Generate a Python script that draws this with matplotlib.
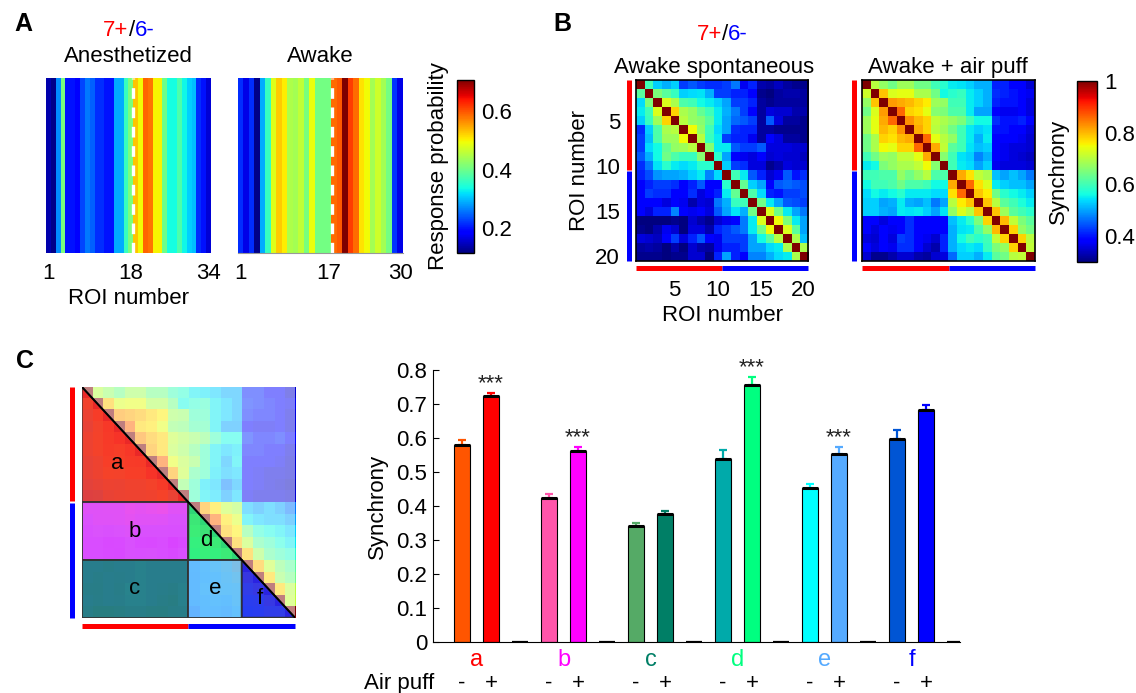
import numpy as np
import matplotlib
matplotlib.use('Agg')
import matplotlib.pyplot as plt
from matplotlib.patches import Polygon, Rectangle
from matplotlib.offsetbox import TextArea, HPacker, AnnotationBbox

plt.rcParams['font.family'] = ['Liberation Sans', 'DejaVu Sans']

# --- data ---
resp_anesthetized = [0.14, 0.12, 0.27, 0.41, 0.20, 0.20, 0.19, 0.23, 0.26, 0.245,
                     0.215, 0.215, 0.20, 0.20, 0.29, 0.29, 0.36, 0.41, 0.53, 0.495,
                     0.59, 0.58, 0.50, 0.50, 0.40, 0.337, 0.337, 0.376, 0.334, 0.31,
                     0.30, 0.215, 0.20, 0.16]
resp_awake = [0.215, 0.17, 0.215, 0.12, 0.29, 0.36, 0.48, 0.525, 0.505, 0.447,
              0.44, 0.46, 0.41, 0.49, 0.405, 0.405, 0.405, 0.585, 0.596, 0.709,
              0.614, 0.585, 0.51, 0.495, 0.44, 0.47, 0.44, 0.405, 0.22, 0.17]
ticks_anesthetized = [1, 18, 34]
ticks_awake = [1, 17, 30]
split_anesthetized = 18   # last 7+ ROI
split_awake = 17

sync_spont = [
    [1.00, 0.60, 0.53, 0.51, 0.53, 0.43, 0.45, 0.43, 0.42, 0.42, 0.43, 0.47, 0.37, 0.41, 0.33, 0.32, 0.34, 0.32, 0.31, 0.31],
    [0.62, 1.00, 0.65, 0.62, 0.59, 0.53, 0.54, 0.545, 0.51, 0.43, 0.43, 0.41, 0.41, 0.39, 0.31, 0.30, 0.32, 0.33, 0.33, 0.32],
    [0.54, 0.65, 1.00, 0.73, 0.69, 0.61, 0.60, 0.56, 0.55, 0.53, 0.50, 0.43, 0.43, 0.41, 0.32, 0.31, 0.32, 0.32, 0.32, 0.32],
    [0.55, 0.60, 0.73, 1.00, 0.78, 0.69, 0.67, 0.63, 0.60, 0.55, 0.51, 0.47, 0.43, 0.38, 0.32, 0.36, 0.35, 0.35, 0.33, 0.33],
    [0.53, 0.59, 0.68, 0.78, 1.00, 0.70, 0.67, 0.66, 0.62, 0.55, 0.50, 0.46, 0.45, 0.43, 0.32, 0.45, 0.36, 0.32, 0.32, 0.31],
    [0.42, 0.53, 0.61, 0.69, 0.70, 1.00, 0.75, 0.67, 0.60, 0.54, 0.50, 0.42, 0.41, 0.41, 0.32, 0.32, 0.31, 0.31, 0.31, 0.31],
    [0.43, 0.52, 0.61, 0.68, 0.68, 0.75, 1.00, 0.70, 0.59, 0.55, 0.43, 0.41, 0.41, 0.37, 0.32, 0.39, 0.36, 0.32, 0.32, 0.31],
    [0.43, 0.54, 0.56, 0.63, 0.67, 0.68, 0.70, 1.00, 0.66, 0.55, 0.55, 0.45, 0.43, 0.43, 0.45, 0.36, 0.36, 0.36, 0.35, 0.35],
    [0.45, 0.51, 0.56, 0.64, 0.61, 0.59, 0.59, 0.66, 1.00, 0.58, 0.50, 0.38, 0.37, 0.36, 0.39, 0.35, 0.36, 0.35, 0.35, 0.34],
    [0.42, 0.47, 0.545, 0.58, 0.55, 0.54, 0.55, 0.58, 0.58, 1.00, 0.53, 0.43, 0.42, 0.36, 0.36, 0.31, 0.33, 0.36, 0.35, 0.35],
    [0.41, 0.44, 0.49, 0.50, 0.50, 0.51, 0.53, 0.55, 0.48, 0.54, 1.00, 0.60, 0.55, 0.45, 0.41, 0.35, 0.37, 0.45, 0.40, 0.42],
    [0.39, 0.41, 0.43, 0.43, 0.42, 0.39, 0.41, 0.45, 0.38, 0.39, 0.58, 1.00, 0.63, 0.53, 0.50, 0.38, 0.45, 0.46, 0.45, 0.44],
    [0.39, 0.43, 0.42, 0.42, 0.38, 0.38, 0.42, 0.36, 0.39, 0.41, 0.55, 0.63, 1.00, 0.61, 0.54, 0.41, 0.40, 0.43, 0.43, 0.44],
    [0.38, 0.39, 0.39, 0.36, 0.39, 0.37, 0.33, 0.36, 0.35, 0.47, 0.51, 0.59, 0.60, 1.00, 0.64, 0.55, 0.50, 0.45, 0.44, 0.43],
    [0.39, 0.36, 0.41, 0.41, 0.48, 0.39, 0.37, 0.38, 0.36, 0.45, 0.50, 0.545, 0.51, 0.64, 1.00, 0.73, 0.64, 0.55, 0.50, 0.47],
    [0.30, 0.30, 0.30, 0.30, 0.31, 0.30, 0.35, 0.33, 0.31, 0.35, 0.37, 0.39, 0.47, 0.55, 0.73, 1.00, 0.75, 0.65, 0.55, 0.50],
    [0.31, 0.30, 0.33, 0.37, 0.35, 0.30, 0.36, 0.36, 0.33, 0.41, 0.43, 0.45, 0.47, 0.55, 0.64, 0.75, 1.00, 0.73, 0.62, 0.50],
    [0.36, 0.35, 0.34, 0.39, 0.43, 0.36, 0.41, 0.45, 0.38, 0.37, 0.43, 0.43, 0.43, 0.50, 0.56, 0.62, 0.70, 1.00, 0.69, 0.52],
    [0.32, 0.33, 0.32, 0.30, 0.33, 0.30, 0.35, 0.33, 0.32, 0.37, 0.41, 0.41, 0.43, 0.50, 0.50, 0.54, 0.55, 0.69, 1.00, 0.69],
    [0.31, 0.31, 0.31, 0.30, 0.31, 0.31, 0.35, 0.35, 0.30, 0.41, 0.50, 0.41, 0.38, 0.48, 0.48, 0.51, 0.54, 0.55, 0.69, 1.00],
]

sync_puff = [
    [1.00, 0.70, 0.67, 0.64, 0.68, 0.68, 0.64, 0.64, 0.60, 0.58, 0.55, 0.545, 0.53, 0.51, 0.51, 0.41, 0.41, 0.39, 0.39, 0.35],
    [0.72, 1.00, 0.79, 0.73, 0.74, 0.74, 0.69, 0.69, 0.64, 0.56, 0.58, 0.59, 0.55, 0.53, 0.51, 0.42, 0.41, 0.40, 0.39, 0.37],
    [0.67, 0.79, 1.00, 0.82, 0.81, 0.80, 0.78, 0.76, 0.68, 0.67, 0.60, 0.60, 0.55, 0.53, 0.51, 0.41, 0.40, 0.40, 0.39, 0.36],
    [0.64, 0.73, 0.82, 1.00, 0.86, 0.78, 0.77, 0.74, 0.66, 0.65, 0.61, 0.61, 0.55, 0.50, 0.50, 0.38, 0.37, 0.37, 0.38, 0.36],
    [0.68, 0.74, 0.81, 0.86, 1.00, 0.83, 0.80, 0.78, 0.71, 0.69, 0.67, 0.65, 0.60, 0.56, 0.56, 0.42, 0.40, 0.40, 0.41, 0.38],
    [0.68, 0.74, 0.80, 0.78, 0.83, 1.00, 0.81, 0.78, 0.70, 0.68, 0.64, 0.60, 0.55, 0.53, 0.545, 0.40, 0.40, 0.39, 0.38, 0.36],
    [0.64, 0.69, 0.78, 0.77, 0.80, 0.81, 1.00, 0.86, 0.74, 0.70, 0.67, 0.60, 0.55, 0.51, 0.55, 0.39, 0.38, 0.38, 0.37, 0.35],
    [0.64, 0.69, 0.75, 0.74, 0.78, 0.78, 0.86, 1.00, 0.81, 0.71, 0.62, 0.60, 0.545, 0.52, 0.53, 0.38, 0.37, 0.36, 0.36, 0.35],
    [0.60, 0.64, 0.68, 0.67, 0.71, 0.71, 0.74, 0.81, 1.00, 0.66, 0.60, 0.545, 0.53, 0.48, 0.51, 0.38, 0.37, 0.36, 0.35, 0.34],
    [0.55, 0.56, 0.65, 0.67, 0.69, 0.69, 0.71, 0.75, 0.66, 1.00, 0.60, 0.55, 0.54, 0.50, 0.53, 0.37, 0.36, 0.36, 0.36, 0.35],
    [0.60, 0.60, 0.61, 0.61, 0.67, 0.64, 0.67, 0.70, 0.61, 0.61, 1.00, 0.81, 0.77, 0.71, 0.69, 0.52, 0.50, 0.52, 0.50, 0.47],
    [0.56, 0.60, 0.60, 0.61, 0.64, 0.61, 0.61, 0.60, 0.56, 0.56, 0.81, 1.00, 0.86, 0.77, 0.73, 0.55, 0.53, 0.52, 0.52, 0.50],
    [0.54, 0.56, 0.55, 0.56, 0.58, 0.55, 0.55, 0.55, 0.54, 0.54, 0.77, 0.86, 1.00, 0.79, 0.76, 0.64, 0.58, 0.56, 0.55, 0.53],
    [0.53, 0.53, 0.50, 0.51, 0.55, 0.51, 0.50, 0.52, 0.47, 0.50, 0.70, 0.76, 0.79, 1.00, 0.79, 0.70, 0.62, 0.60, 0.57, 0.55],
    [0.53, 0.53, 0.51, 0.50, 0.55, 0.545, 0.55, 0.53, 0.50, 0.545, 0.67, 0.73, 0.70, 0.79, 1.00, 0.79, 0.68, 0.62, 0.60, 0.58],
    [0.39, 0.39, 0.36, 0.38, 0.39, 0.42, 0.39, 0.39, 0.39, 0.39, 0.52, 0.55, 0.58, 0.65, 0.78, 1.00, 0.80, 0.71, 0.65, 0.62],
    [0.39, 0.36, 0.38, 0.37, 0.38, 0.42, 0.39, 0.38, 0.39, 0.39, 0.51, 0.545, 0.55, 0.61, 0.67, 0.80, 1.00, 0.78, 0.67, 0.64],
    [0.36, 0.35, 0.38, 0.36, 0.43, 0.42, 0.39, 0.37, 0.35, 0.41, 0.51, 0.56, 0.60, 0.58, 0.60, 0.71, 0.78, 1.00, 0.78, 0.70],
    [0.38, 0.36, 0.39, 0.37, 0.42, 0.42, 0.39, 0.35, 0.33, 0.41, 0.51, 0.54, 0.55, 0.54, 0.59, 0.65, 0.67, 0.78, 1.00, 0.71],
    [0.35, 0.31, 0.31, 0.33, 0.35, 0.35, 0.33, 0.32, 0.35, 0.36, 0.46, 0.53, 0.53, 0.51, 0.55, 0.62, 0.64, 0.70, 0.71, 1.00],
]
n_pos = 10   # ROIs 1-10 are 7+, 11-20 are 6-

# region blocks in panel C: (name, first row, last row+1, first col, last col+1, triangle?)
regions = [('a', 0, 10, 0, 10, True), ('b', 10, 15, 0, 10, False), ('c', 15, 20, 0, 10, False),
           ('d', 10, 15, 10, 15, True), ('e', 15, 20, 10, 15, False), ('f', 15, 20, 15, 20, True)]
region_colors = ['#F51313', '#F027FF', '#127D6F', '#0BED76', '#5DB4FF', '#050CFC']

groups = ['a', 'b', 'c', 'd', 'e', 'f']
syn_minus = [0.580, 0.424, 0.341, 0.539, 0.453, 0.596]
err_minus = [0.015, 0.010, 0.010, 0.027, 0.013, 0.027]
syn_plus = [0.723, 0.563, 0.377, 0.756, 0.554, 0.681]
err_plus = [0.010, 0.010, 0.009, 0.022, 0.020, 0.016]
spacer = [0, 0, 0, 0, 0, 0]
stars = ['***', '***', '', '***', '***', '']
col_minus = ['#FF5500', '#FF55AA', '#55AA66', '#00AAAA', '#00FFFF', '#0055D4']
col_plus = ['#FF0000', '#FF00FF', '#007F66', '#00FF80', '#55AAFF', '#0000FF']
col_group = ['#FF0000', '#FF00FF', '#007F66', '#00FF80', '#55AAFF', '#0000FF']

# --- figure in pixel layout ---
W, H = 1136, 693
fig = plt.figure(figsize=(W / 100, H / 100), dpi=100)
FS = 16


def add_ax(x0, y0, x1, y1):
    return fig.add_axes([x0 / W, 1 - y1 / H, (x1 - x0) / W, (y1 - y0) / H])


def ftext(x, y, s, **kw):
    return fig.text(x / W, 1 - y / H, s, **kw)


def ratio_label(x, y):
    parts = [TextArea('7+', textprops=dict(color='red', fontsize=FS)),
             TextArea('/', textprops=dict(color='black', fontsize=FS)),
             TextArea('6-', textprops=dict(color='blue', fontsize=FS))]
    box = HPacker(children=parts, align='baseline', pad=0, sep=0)
    ab = AnnotationBbox(box, (x / W, 1 - y / H), xycoords='figure fraction',
                        frameon=False, box_alignment=(0.5, 0.5))
    fig.add_artist(ab)


def group_bars(ax, x_left, y_bottom):
    # red = 7+ ROIs, blue = 6- ROIs, drawn outside the matrix
    kw = dict(lw=3.6, solid_capstyle='butt', clip_on=False)
    ax.plot([x_left, x_left], [-0.5, n_pos - 0.6], color='red', **kw)
    ax.plot([x_left, x_left], [n_pos - 0.4, 19.5], color='blue', **kw)
    ax.plot([-0.5, n_pos - 0.5], [y_bottom, y_bottom], color='red', **kw)
    ax.plot([n_pos - 0.5, 19.5], [y_bottom, y_bottom], color='blue', **kw)
    ax.set_xlim(-0.5, 19.5)
    ax.set_ylim(19.5, -0.5)


# panel labels
ftext(562, 24, 'B', fontsize=18, fontweight='bold', ha='center', va='center')
ftext(23, 24, 'A', fontsize=18, fontweight='bold', ha='center', va='center')
ftext(25, 361, 'C', fontsize=18, fontweight='bold', ha='center', va='center')

# --- A: response probability strips ---
vminA, vmaxA = 0.115, 0.706
strips = [(resp_anesthetized, ticks_anesthetized, split_anesthetized, (46, 78, 211, 253), 'Anesthetized'),
          (resp_awake, ticks_awake, split_awake, (238, 78, 403, 253), 'Awake')]
for vals, tks, split, box, title in strips:
    ax = add_ax(*box)
    n = len(vals)
    imA = ax.imshow([vals], cmap='jet', vmin=vminA, vmax=vmaxA, aspect='auto',
                    interpolation='nearest', extent=(0.5, n + 0.5, 0, 1))
    ax.axvline(split + 0.5, color='white', lw=2.4, dashes=(3.2, 2.6))
    ax.set_xticks(tks)
    ax.set_yticks([])
    ax.tick_params(length=0, labelsize=FS, pad=7)
    for s in ax.spines.values():
        s.set_visible(False)
    if title == 'Awake':
        ax.spines['bottom'].set_visible(True)
        ax.spines['bottom'].set_color('#999999')
    else:
        ax.set_xlabel('ROI number', fontsize=FS, labelpad=3)
    ftext((box[0] + box[2]) / 2, 56, title, fontsize=FS, ha='center', va='center')
ratio_label(129, 30)

caxA = add_ax(457, 80, 474, 253)
cbA = fig.colorbar(imA, cax=caxA, ticks=[0.2, 0.4, 0.6])
cbA.ax.tick_params(length=0, labelsize=FS, pad=5)
cbA.outline.set_linewidth(1.0)
cbA.set_label('Response probability', fontsize=FS, labelpad=6)
caxA.yaxis.set_label_position('left')

# --- B: synchrony matrices ---
vminB, vmaxB = 0.3, 1.0
roi_ticks = [4, 9, 14, 19]
roi_labels = ['5', '10', '15', '20']

ax_sp = add_ax(636, 80, 808, 261)
ax_sp.imshow(sync_spont, cmap='jet', vmin=vminB, vmax=vmaxB, aspect='auto', interpolation='nearest')
ax_sp.set_xticks(roi_ticks, roi_labels)
ax_sp.set_yticks(roi_ticks, roi_labels)
ax_sp.tick_params(length=0, labelsize=FS)
ax_sp.tick_params(axis='x', pad=13.5)
ax_sp.tick_params(axis='y', pad=11.5)
ax_sp.set_xlabel('ROI number', fontsize=FS, labelpad=3)
ax_sp.set_ylabel('ROI number', fontsize=FS, labelpad=4)
group_bars(ax_sp, -1.35, 20.3)

ax_ap = add_ax(862, 80, 1035, 261)
imB = ax_ap.imshow(sync_puff, cmap='jet', vmin=vminB, vmax=vmaxB, aspect='auto', interpolation='nearest')
ax_ap.set_xticks([])
ax_ap.set_yticks([])
group_bars(ax_ap, -1.45, 20.3)
for ax in (ax_sp, ax_ap):
    for s in ax.spines.values():
        s.set_linewidth(1.2)

ratio_label(722, 35)
ftext(714, 68, 'Awake spontaneous', fontsize=FS, ha='center', va='center')
ftext(948, 68, 'Awake + air puff', fontsize=FS, ha='center', va='center')

caxB = add_ax(1077, 81, 1097, 262)
cbB = fig.colorbar(imB, cax=caxB, ticks=[0.4, 0.6, 0.8, 1.0])
cbB.ax.set_yticklabels(['0.4', '0.6', '0.8', '1'])
cbB.ax.tick_params(length=0, labelsize=FS, pad=5)
cbB.outline.set_linewidth(1.0)
cbB.set_label('Synchrony', fontsize=FS, labelpad=6)
caxB.yaxis.set_label_position('left')

# --- C: region map on the air-puff matrix ---
ax_c = add_ax(81.7, 386.7, 295, 617.7)
ax_c.imshow(sync_puff, cmap='jet', vmin=vminB, vmax=vmaxB, aspect='auto', interpolation='nearest')
ax_c.add_patch(Rectangle((-0.5, -0.5), 20, 20, facecolor='white', alpha=0.5, lw=0))
for (name, r0, r1, c0, c1, tri), colr in zip(regions, region_colors):
    x0, x1, y0, y1 = c0 - 0.5, c1 - 0.5, r0 - 0.5, r1 - 0.5
    if tri:
        pts = [(x0, y0), (x0, y1), (x1, y1)]
        cx, cy = (2 * x0 + x1) / 3, (y0 + 2 * y1) / 3
    else:
        pts = [(x0, y0), (x0, y1), (x1, y1), (x1, y0)]
        cx, cy = (x0 + x1) / 2, (y0 + y1) / 2
    ax_c.add_patch(Polygon(pts, closed=True, facecolor=colr, alpha=0.8, edgecolor='none'))
    ax_c.add_patch(Polygon(pts, closed=True, facecolor='none', edgecolor='#333333', lw=1.3))
    ax_c.text(cx, cy, name, fontsize=FS, ha='center', va='center')
ax_c.plot([-0.5, 19.5], [-0.5, 19.5], color='black', lw=1.4)
ax_c.axis('off')
group_bars(ax_c, -1.4, 20.2)

# --- C: bar chart ---
axb = add_ax(433, 370, 960, 642)
w = 0.53
x_minus = np.arange(len(groups)) * 3
x_plus = x_minus + 1
x_gap = x_minus + 2
axb.bar(x_minus, syn_minus, width=w, color=col_minus, edgecolor='black', lw=0.8, zorder=2)
axb.bar(x_plus, syn_plus, width=w, color=col_plus, edgecolor='black', lw=0.8, zorder=2)
axb.bar(x_gap, spacer, width=0.55, color='none', edgecolor='black', lw=1.6, zorder=2)
for xs, vals, errs, cols in ((x_minus, syn_minus, err_minus, col_minus),
                             (x_plus, syn_plus, err_plus, col_plus)):
    for xi, v, e, c in zip(xs, vals, errs, cols):
        axb.errorbar(xi, v, yerr=[[0], [e]], fmt='none', ecolor=c, elinewidth=1.6,
                     capsize=3, capthick=1.6, zorder=3)
    axb.hlines(vals, xs - w / 2, xs + w / 2, colors='black', lw=2.2, zorder=4)
for xi, v, e, s in zip(x_plus, syn_plus, err_plus, stars):
    if s:
        axb.text(xi, v + e + 0.012, s, fontsize=16, ha='center', va='baseline', color='#222222')

trans = axb.get_xaxis_transform()
for g, xm, c in zip(groups, x_minus, col_group):
    axb.text(xm + 0.5, -0.066, g, color=c, fontsize=17, ha='center', va='center', transform=trans)
    axb.text(xm, -0.152, '-', fontsize=FS, ha='center', va='center', transform=trans)
    axb.text(xm + 1, -0.152, '+', fontsize=FS, ha='center', va='center', transform=trans)
axb.text(-0.95, -0.152, 'Air puff', fontsize=FS, ha='right', va='center', transform=trans)

axb.set_xlim(-1.0, 17.17)
axb.set_ylim(0, 0.8)
axb.set_yticks(np.arange(0, 0.81, 0.1))
axb.set_yticklabels(['0'] + ['%.1f' % v for v in np.arange(0.1, 0.81, 0.1)])
axb.set_xticks([])
axb.tick_params(axis='y', direction='in', length=4, labelsize=FS, pad=4)
axb.spines['top'].set_visible(False)
axb.spines['right'].set_visible(False)
axb.set_ylabel('Synchrony', fontsize=FS, labelpad=6)

fig.savefig('out.png', dpi=100)
